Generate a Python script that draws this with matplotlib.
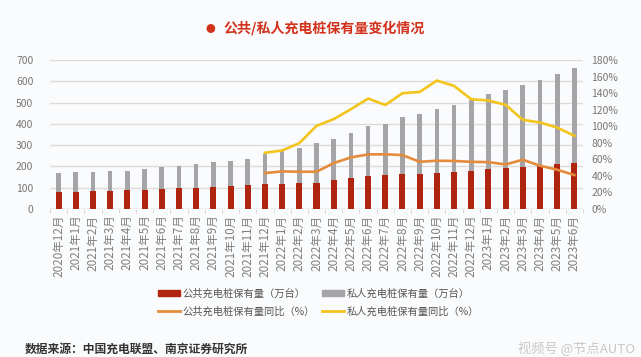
import numpy as np
import matplotlib
matplotlib.use("Agg")
import matplotlib.pyplot as plt
from matplotlib.patches import Patch
from matplotlib.lines import Line2D

plt.rcParams['font.family'] = ['Noto Sans CJK SC', 'DejaVu Sans']

# months 2020-12 .. 2023-6
months = ["2020年12月"] + [f"2021年{m}月" for m in range(1, 13)] \
    + [f"2022年{m}月" for m in range(1, 13)] + [f"2023年{m}月" for m in range(1, 7)]

# stock, 万台
public = [81.3, 81.3, 84.4, 84.4, 87.5, 87.5, 93.8, 96.9, 98.4, 104.7, 107.8,
          110.9, 115.6, 118.8, 123.4, 123.4, 134.4, 143.8, 153.1, 159.4, 165.6,
          165.6, 168.8, 175.0, 179.7, 186.0, 190.6, 198.4, 200.0, 209.4, 215.6]
private = [87.5, 90.6, 90.6, 93.6, 92.2, 100.0, 103.1, 103.1, 112.6, 117.2, 117.2,
           125.0, 142.2, 153.1, 162.5, 186.0, 195.3, 214.0, 235.9, 239.0, 265.4,
           282.4, 300.0, 315.6, 331.3, 353.0, 367.2, 384.4, 406.0, 423.4, 446.9]

# yoy %, only from 2021-12 on
nan = np.nan
public_yoy = [nan] * 12 + [43.4, 45.4, 45.0, 45.0, 55.4, 62.3, 65.9, 66.1,
                           65.1, 57.0, 58.3, 58.0, 57.0, 56.6, 53.8, 59.5, 52.2,
                           47.4, 41.0]
private_yoy = [nan] * 12 + [67.9, 70.7, 79.5, 100.4, 108.5, 120.5, 133.4, 125.6,
                            139.8, 141.4, 155.1, 148.7, 132.6, 131.0, 125.8, 107.7,
                            104.5, 98.4, 88.4]

red = "#b0250f"
grey = "#a5a5a7"
orange = "#e58b3c"
yellow = "#f3c51c"
bg = "#fafbfc"

fig = plt.figure(figsize=(6.41, 3.57), dpi=100, facecolor=bg)
ax = fig.add_axes([0.078, 0.4146, 0.8315, 0.4174], facecolor=bg)

x = np.arange(len(months))
ax.bar(x, public, width=0.35, color=red, zorder=3)
ax.bar(x, private, width=0.27, bottom=public, color=grey, zorder=3)

ax.set_xlim(-0.5, len(months) - 0.5)
ax.set_ylim(0, 700)
ax.set_yticks(range(0, 701, 100))
ax.grid(axis='y', color='#dcdcdc', lw=1, zorder=0)
for s in ax.spines.values():
    s.set_visible(False)
ax.axhline(0, color='#d0d0d0', lw=1, zorder=2)
ax.tick_params(axis='y', length=0, labelsize=7.5, labelcolor='#777777', pad=12)
ax.set_xticks(x)
ax.set_xticklabels(months, rotation=90, fontsize=8.4, color='#808080')
ax.tick_params(axis='x', length=0, pad=4)
ax.set_xticks(np.arange(-0.5, len(months)), minor=True)
ax.tick_params(axis='x', which='minor', length=3, color='#d0d0d0')

ax2 = ax.twinx()
ax2.plot(x, public_yoy, color=orange, lw=1.9, zorder=4)
ax2.plot(x, private_yoy, color=yellow, lw=1.9, zorder=4)
ax2.set_ylim(0, 180)
ax2.set_yticks(range(0, 181, 20))
ax2.set_yticklabels([f"{v}%" for v in range(0, 181, 20)])
ax2.tick_params(axis='y', length=0, labelsize=7.5, labelcolor='#777777', pad=6)
for s in ax2.spines.values():
    s.set_visible(False)

# title with small bullet
fig.text(210 / 641, 0.92, "●", color='#d2321c', fontsize=7,
         ha='center', va='center')
fig.text(223 / 641, 0.92, "公共/私人充电桩保有量变化情况", color='#d2321c',
         fontsize=10.1, fontweight='bold', ha='left', va='center')

handles = [Patch(color=red), Line2D([], [], color=orange, lw=2),
           Patch(color=grey), Line2D([], [], color=yellow, lw=2)]
labels = ["公共充电桩保有量（万台）", "公共充电桩保有量同比（%）",
          "私人充电桩保有量（万台）", "私人充电桩保有量同比（%）"]
fig.legend(handles, labels, ncol=2, loc='center', bbox_to_anchor=(0.497, 0.153),
           frameon=False, fontsize=7.4, labelcolor='#555555', handlelength=2.1,
           handleheight=0.55, handletextpad=0.3, columnspacing=0.7,
           labelspacing=0.8, borderpad=0)

fig.text(0.039, 0.023, "数据来源：中国充电联盟、南京证券研究所", fontsize=8.5,
         fontweight='bold', color='#333333', va='center')
fig.text(0.99, 0.023, "视频号 @节点AUTO", fontsize=9.5, color='#c8c8c8',
         ha='right', va='center')

fig.savefig("out.png", dpi=100, facecolor=bg)
